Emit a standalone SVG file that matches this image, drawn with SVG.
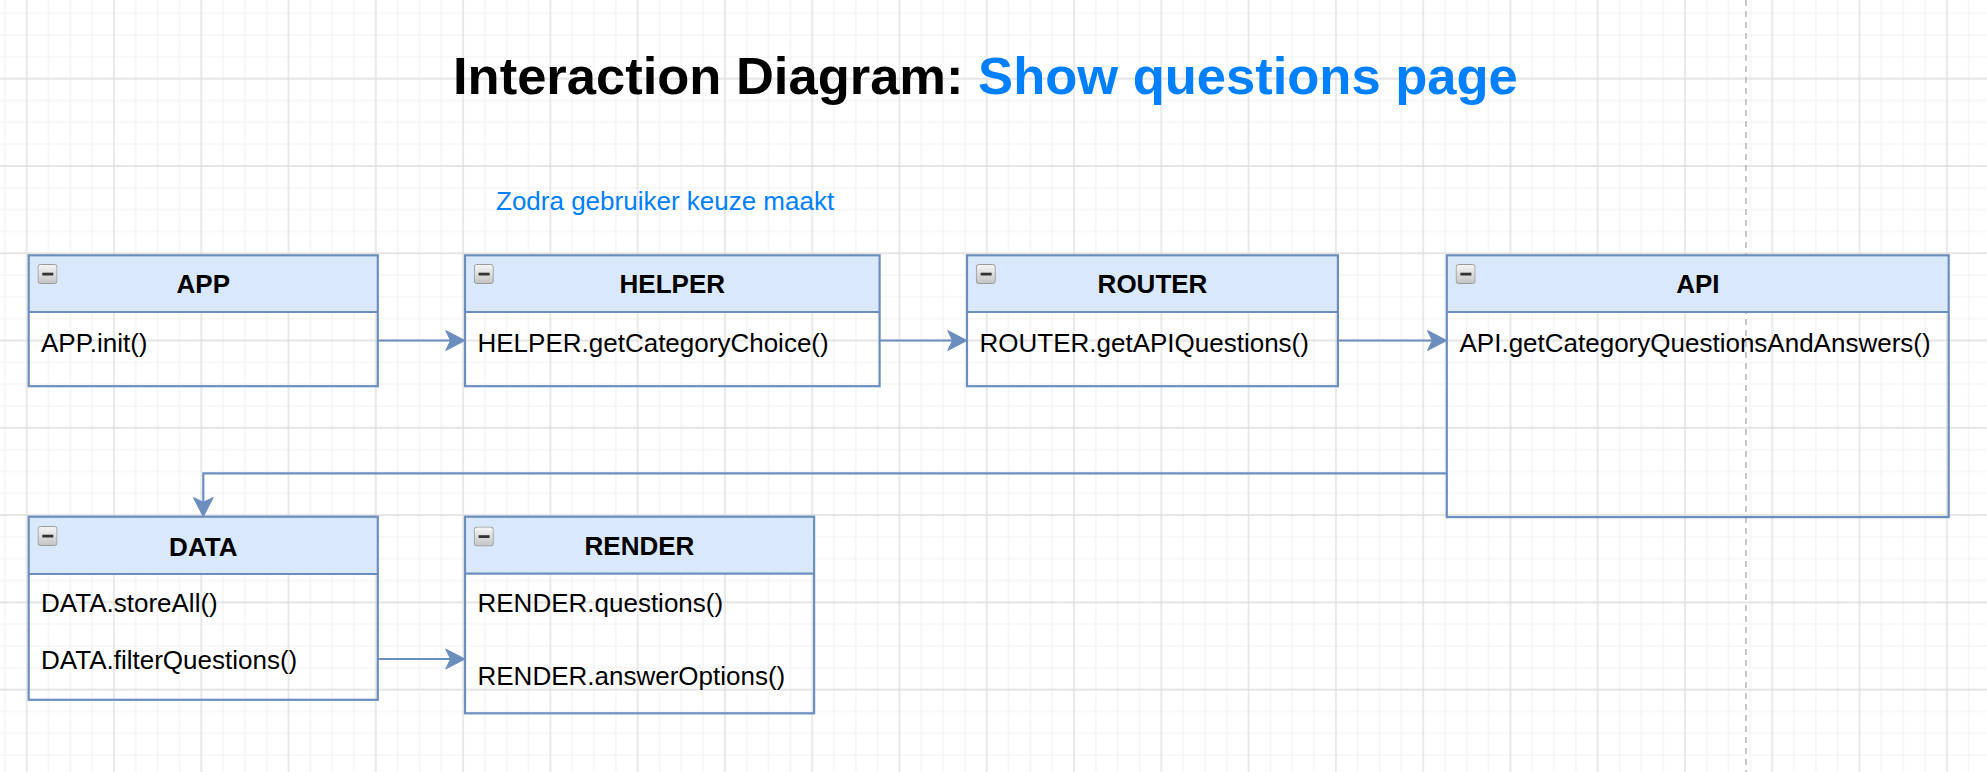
<svg xmlns="http://www.w3.org/2000/svg" width="1987" height="772" viewBox="0 0 1987 772">
<defs>
<style>
.hdr{fill:#dae8fc;stroke:none}
.box{fill:none;stroke:#6c8ebf;stroke-width:2.2}
.div{stroke:#6c8ebf;stroke-width:2.2}
.ht{font-family:"Liberation Sans",Arial,sans-serif;font-size:26px;font-weight:bold;fill:#000;text-anchor:middle}
.bt{font-family:"Liberation Sans",Arial,sans-serif;font-size:26px;fill:#000}
.edge{fill:none;stroke:#6c8ebf;stroke-width:2.2;marker-end:url(#arr)}
.ico-b{fill:url(#icog);stroke:#9a9a9a;stroke-width:1}
.ico-m{fill:#333}
</style>
<pattern id="grid" patternUnits="userSpaceOnUse" x="15.79" y="67.79" width="87.28" height="87.28">
<path d="M32.73 0V87.28M54.55 0V87.28M76.37 0V87.28M0 32.73H87.28M0 54.55H87.28M0 76.37H87.28" stroke="#f1f1f1" stroke-width="1.1" fill="none"/>
<path d="M10.91 0V87.28M0 10.91H87.28" stroke="#dddddd" stroke-width="1.3" fill="none"/>
</pattern>
<linearGradient id="icog" x1="0" y1="0" x2="0" y2="1">
<stop offset="0" stop-color="#f6f6f6"/>
<stop offset="1" stop-color="#c4c4c4"/>
</linearGradient>
<marker id="arr" viewBox="-30 -12 32 24" refX="-10" refY="0" markerWidth="32" markerHeight="24" markerUnits="userSpaceOnUse" orient="auto">
<path d="M0,0 L-19.3,-10 L-14.5,0 L-19.3,10 Z" fill="#6c8ebf" stroke="#6c8ebf" stroke-width="1"/>
</marker>
<symbol id="ico" viewBox="0 0 20 20" width="20" height="20">
<rect class="ico-b" x="0.5" y="0.5" width="19" height="19" rx="2.5"/>
<rect class="ico-m" x="4.8" y="8.7" width="11" height="2.8"/>
</symbol>
</defs>
<rect width="1987" height="772" fill="#ffffff"/>
<rect width="1987" height="772" fill="url(#grid)"/>
<line x1="1746" y1="0" x2="1746" y2="772" stroke="#b8b8b8" stroke-width="1.6" stroke-dasharray="6 5"/>

<g id="title">
<text x="453" y="94.3" font-family="'Liberation Sans',Arial,sans-serif" font-size="52.5" font-weight="bold" fill="#000">Interaction Diagram: <tspan fill="#007fff">Show questions page</tspan></text>
</g>
<g id="subtitle">
<text x="496" y="210" font-family="'Liberation Sans',Arial,sans-serif" font-size="26" fill="#007fff">Zodra gebruiker keuze maakt</text>
</g>

<g id="connectors">
<path class="edge" d="M377.7 340.5H455"/>
<path class="edge" d="M879.6 340.5H957"/>
<path class="edge" d="M1337.9 340.5H1436.8"/>
<path class="edge" d="M1446.8 473.3H203.3V506.7"/>
<path class="edge" d="M377.7 659H455"/>
</g>

<g id="app">
<rect class="hdr" x="28.7" y="255.3" width="349.1" height="56.7"/>
<rect class="box" x="28.7" y="255.3" width="349.1" height="130.9"/>
<line class="div" x1="28.7" y1="312" x2="377.8" y2="312"/>
<use href="#ico" x="37.5" y="264"/>
<text class="ht" x="203.3" y="293.3">APP</text>
<text class="bt" x="41" y="351.5">APP.init()</text>
</g>

<g id="helper">
<rect class="hdr" x="465" y="255.3" width="414.6" height="56.7"/>
<rect class="box" x="465" y="255.3" width="414.6" height="130.9"/>
<line class="div" x1="465" y1="312" x2="879.6" y2="312"/>
<use href="#ico" x="473.8" y="264"/>
<text class="ht" x="672.3" y="293.3">HELPER</text>
<text class="bt" x="477.5" y="351.5">HELPER.getCategoryChoice()</text>
</g>

<g id="router">
<rect class="hdr" x="967" y="255.3" width="370.9" height="56.7"/>
<rect class="box" x="967" y="255.3" width="370.9" height="130.9"/>
<line class="div" x1="967" y1="312" x2="1337.9" y2="312"/>
<use href="#ico" x="975.8" y="264"/>
<text class="ht" x="1152.5" y="293.3">ROUTER</text>
<text class="bt" x="979.5" y="351.5">ROUTER.getAPIQuestions()</text>
</g>

<g id="api">
<rect class="hdr" x="1446.8" y="255.3" width="501.9" height="56.7"/>
<rect class="box" x="1446.8" y="255.3" width="501.9" height="261.8"/>
<line class="div" x1="1446.8" y1="312" x2="1948.7" y2="312"/>
<use href="#ico" x="1455.6" y="264"/>
<text class="ht" x="1697.8" y="293.3">API</text>
<text class="bt" x="1459.5" y="351.5">API.getCategoryQuestionsAndAnswers()</text>
</g>

<g id="data">
<rect class="hdr" x="28.7" y="516.7" width="349.1" height="57.3"/>
<rect class="box" x="28.7" y="516.7" width="349.1" height="183.1"/>
<line class="div" x1="28.7" y1="574" x2="377.8" y2="574"/>
<use href="#ico" x="37.5" y="526"/>
<text class="ht" x="203.3" y="555.5">DATA</text>
<text class="bt" x="41" y="612.3">DATA.storeAll()</text>
<text class="bt" x="41" y="669">DATA.filterQuestions()</text>
</g>

<g id="render">
<rect class="hdr" x="465" y="516.7" width="349.1" height="56.9"/>
<rect class="box" x="465" y="516.7" width="349.1" height="196.6"/>
<line class="div" x1="465" y1="573.6" x2="814.1" y2="573.6"/>
<use href="#ico" x="473.8" y="526.5"/>
<text class="ht" x="639.5" y="555.3">RENDER</text>
<text class="bt" x="477.5" y="611.7">RENDER.questions()</text>
<text class="bt" x="477.5" y="685">RENDER.answerOptions()</text>
</g>
</svg>
